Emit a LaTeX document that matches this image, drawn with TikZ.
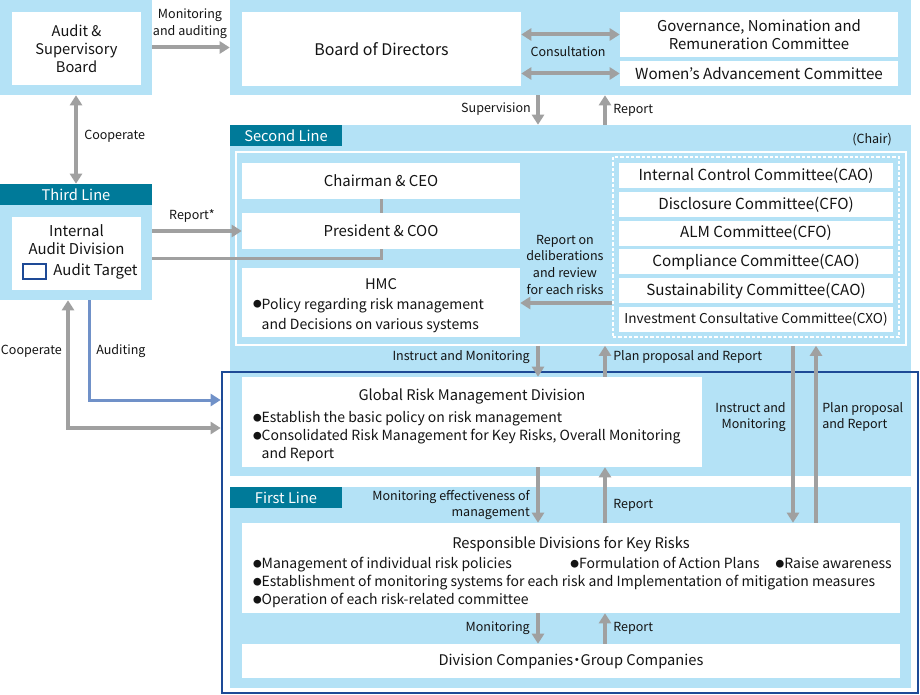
\documentclass[tikz,border=0pt]{standalone}
\usepackage{fontspec}
\setmainfont{Noto Sans CJK JP}
\usetikzlibrary{arrows.meta,positioning}

\definecolor{paleblue}{RGB}{180,226,246}
\definecolor{tabteal}{RGB}{0,122,153}
\definecolor{arrowgray}{RGB}{160,160,160}
\definecolor{frameblue}{RGB}{30,74,150}
\definecolor{audblue}{RGB}{112,145,200}
\definecolor{ink}{RGB}{20,20,20}
\newcommand{\bul}{\raisebox{0.9pt}{\fontsize{6.5}{6.5}\selectfont ●}}
\newcommand{\bultext}{\fontsize{10.5}{13.5}\selectfont}

\begin{document}
\begin{tikzpicture}[x=0.75pt, y=-0.75pt,
    every node/.style={inner sep=0pt, text=ink},
    sz/.style 2 args={minimum width={#1*0.75pt}, minimum height={#2*0.75pt}},
    bluebox/.style={fill=paleblue},
    whitebox/.style={fill=white, align=center, font=\fontsize{11.2}{13.5}\selectfont},
    cmtbox/.style={whitebox, sz={274}{25}, font=\fontsize{11.4}{13.5}\selectfont},
    tab/.style={fill=tabteal, text=white, sz={112}{21}, font=\fontsize{11}{13}\selectfont},
    lbl/.style={font=\fontsize{9.4}{12.5}\selectfont},
    arr/.style={draw=arrowgray, line width=3pt, -{Triangle[length=7.5pt,width=9pt]}},
    both/.style={draw=arrowgray, line width=3pt, {Triangle[length=7.5pt,width=9pt]}-{Triangle[length=7.5pt,width=9pt]}},
    aud/.style={draw=audblue, line width=2.25pt, -{Triangle[length=7.5pt,width=9pt]}},
    ln/.style={draw=arrowgray, line width=2.25pt}]
\useasboundingbox (0,0) rectangle (920,695);

% board level
\node[bluebox, sz={152}{95}] (asbo) at (76,47.5) {};
\node[whitebox, sz={129}{73}, font=\fontsize{11}{13.5}\selectfont] (asb) at (76.5,48.5) {Audit \&\\Supervisory\\Board};
\node[bluebox, sz={681}{95}] (bodo) at (570.5,47.5) {};
\node[whitebox, sz={279}{74}, font=\fontsize{12}{14}\selectfont] (bod) at (381.5,49) {Board of Directors};
\node[whitebox, sz={278}{45}] (gnr) at (759,34.5) {Governance, Nomination and\\Remuneration Committee};
\node[whitebox, sz={278}{25}, font=\fontsize{11.4}{13.5}\selectfont] (wac) at (759,73.5) {Women’s Advancement Committee};

% second line
\node[bluebox, sz={681}{351}] (sl) at (570.5,300.5) {};
\node[tab] (tab2) at (286,135.5) {Second Line};
\node[lbl, anchor=east] (chair) at (892,140) {(Chair)};
\node[draw=white, line width=1.2pt, sz={670}{193}] (inner) at (571,248.5) {};
\node[whitebox, sz={278}{36}] (ceo) at (381,181) {Chairman \& CEO};
\node[whitebox, sz={278}{36}] (coo) at (381,231) {President \& COO};
\node[whitebox, sz={278}{69}, font=\fontsize{11}{15}\selectfont] (hmc) at (381,302.5) {\rule{0pt}{14pt}HMC\\\bultext\begin{tabular}[t]{@{}p{192pt}@{}}\bul Policy regarding risk management\\[1.5pt]\phantom{\bul}and Decisions on various systems\end{tabular}};
\node[draw=white, line width=0.9pt, dash pattern=on 2.5pt off 1.5pt, sz={286}{180}] (cmt) at (756,247) {};
\node[cmtbox] (ic) at (756,175.5) {Internal Control Committee(CAO)};
\node[cmtbox] (dcm) at (756,204.3) {Disclosure Committee(CFO)};
\node[cmtbox] (alm) at (756,233.1) {ALM Committee(CFO)};
\node[cmtbox] (cc) at (756,261.9) {Compliance Committee(CAO)};
\node[cmtbox] (sc) at (756,290.7) {Sustainability Committee(CAO)};
\node[cmtbox, font=\fontsize{10.2}{13.5}\selectfont] (icc) at (756,319.5) {Investment Consultative Committee(CXO)};

% audit target frame
\node[draw=frameblue, line width=2pt, sz={696}{321}] (tgt) at (570,532.5) {};
\node[whitebox, sz={460}{90}, font=\fontsize{11}{13.5}\selectfont] (grm) at (472,422) {\rule{0pt}{15pt}Global Risk Management Division\\[3pt]\bultext\begin{tabular}[t]{@{}p{328.5pt}@{}}\bul Establish the basic policy on risk management\\\bul Consolidated Risk Management for Key Risks, Overall Monitoring\\\phantom{\bul}and Report\end{tabular}};

% first line
\node[bluebox, sz={681}{201}] (fl) at (570.5,587.5) {};
\node[tab] (tab1) at (286,497.5) {First Line};
\node[whitebox, sz={658}{90}, font=\fontsize{11}{13.5}\selectfont] (rdk) at (571,568) {\rule{0pt}{17pt}Responsible Divisions for Key Risks\\[2pt]\bultext\begin{tabular}[t]{@{}p{477pt}@{}}\mbox{\makebox[238pt][l]{\bul Management of individual risk policies}\makebox[154pt][l]{\bul Formulation of Action Plans}\bul Raise awareness}\\\bul Establishment of monitoring systems for each risk and Implementation of mitigation measures\\\bul Operation of each risk-related committee\end{tabular}};
\node[whitebox, sz={658}{34}, font=\fontsize{11}{13.5}\selectfont] (dc) at (571,661) {Division Companies\kern-0.25em・\kern-0.25em Group Companies};

% third line
\node[bluebox, sz={152}{116}] (tl) at (76,242) {};
\node[tab, sz={152}{21}] (tab3) at (76,194.5) {Third Line};
\node[whitebox, sz={129}{73}] (iad) at (76.5,253.5) {};
\node[whitebox, fill=none] (iadt) at (76.5,239.5) {Internal\\Audit Division};
\node[draw=frameblue, line width=1.8pt, fill=white, sz={23}{15}] (key) at (34.5,271.5) {};
\node[whitebox, fill=none, right=4.5pt of key] (keyt) {Audit Target};

% connectors
\coordinate (dn) at (538,0);
\coordinate (up) at (605,0);
\coordinate (dn2) at (793,0);
\coordinate (up2) at (816,0);
\coordinate (cp) at (68,428);
\coordinate (au) at (89,400);
\draw[arr] (asbo.east) -- (bodo.west);
\draw[both] (bod.east |- gnr.west) -- (gnr.west);
\draw[both] (bod.east |- wac.west) -- (wac.west);
\draw[arr] (bodo.south -| dn) -- (sl.north -| dn);
\draw[arr] (sl.north -| up) -- (bodo.south -| up);
\draw[both] (asbo.south) -- (tab3.north);
\draw[arr] (tl.east |- coo.west) -- (coo.west);
\draw[ln] (tl.east |- 0,258) -| (coo.south);
\draw[ln] (ceo.south) -- (coo.north);
\draw[arr] (cmt.west |- 0,303) -- (hmc.east |- 0,303);
\draw[arr] (inner.south -| dn) -- (grm.north -| dn);
\draw[arr] (grm.north -| up) -- (inner.south -| up);
\draw[arr] (inner.south -| dn2) -- (rdk.north -| dn2);
\draw[arr] (rdk.north -| up2) -- (inner.south -| up2);
\draw[arr] (grm.south -| dn) -- (rdk.north -| dn);
\draw[arr] (rdk.north -| up) -- (grm.south -| up);
\draw[arr] (rdk.south -| dn) -- (dc.north -| dn);
\draw[arr] (dc.north -| up) -- (rdk.south -| up);
\draw[both] (tl.south -| cp) |- (tgt.west |- cp);
\draw[aud] (tl.south -| au) |- (tgt.west |- au);

% labels
\node[lbl, align=center] (lmon) at (190,24) {Monitoring\\and auditing};
\node[lbl] (lcon) at (568,52) {Consultation};
\node[lbl, anchor=east] (lsup) at (531,109) {Supervision};
\node[lbl, anchor=west] (lrep1) at (613,110) {Report};
\node[lbl, anchor=west] (lcoop1) at (84,136) {Cooperate};
\node[lbl] (lrep2) at (192,216) {Report*};
\node[lbl, align=center] (ldel) at (565,264.5) {Report on\\deliberations\\and review\\for each risks};
\node[lbl, anchor=east] (lins) at (530,357) {Instruct and Monitoring};
\node[lbl, anchor=west] (lplan) at (613,357) {Plan proposal and Report};
\node[lbl, anchor=east] (lcoop2) at (62,351) {Cooperate};
\node[lbl, anchor=west] (laud) at (96,351) {Auditing};
\node[lbl, anchor=east, align=right] (lins2) at (786,417) {Instruct and\\Monitoring};
\node[lbl, anchor=west, align=left] (lplan2) at (822,417) {Plan proposal\\and Report};
\node[lbl, anchor=east, align=right] (leff) at (530,505) {Monitoring effectiveness of\\management};
\node[lbl, anchor=west] (lrep3) at (613,505) {Report};
\node[lbl, anchor=east] (lmon2) at (530,628) {Monitoring};
\node[lbl, anchor=west] (lrep4) at (613,628) {Report};
\end{tikzpicture}
\end{document}
